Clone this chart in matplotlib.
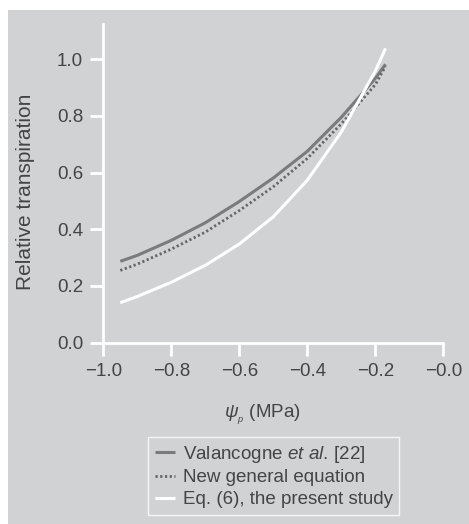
import matplotlib
matplotlib.use("Agg")
import matplotlib.pyplot as plt
from matplotlib.patches import Rectangle

plt.rcParams["font.family"] = ["Liberation Sans", "DejaVu Sans"]
plt.rcParams["mathtext.fontset"] = "custom"
plt.rcParams["mathtext.rm"] = "Liberation Sans"
plt.rcParams["mathtext.it"] = "Liberation Sans:italic"

# water potential (MPa)
psi = [-0.95, -0.9, -0.8, -0.7, -0.6, -0.5, -0.4, -0.3, -0.2, -0.17]
valancogne = [0.287, 0.308, 0.361, 0.423, 0.498, 0.581, 0.675, 0.795, 0.932, 0.982]
new_general = [0.255, 0.277, 0.330, 0.390, 0.466, 0.550, 0.650, 0.772, 0.910, 0.975]
eq6 = [0.141, 0.163, 0.213, 0.273, 0.348, 0.444, 0.573, 0.743, 0.958, 1.038]

BG = "#d1d2d4"
TXT = "#444444"

fig = plt.figure(figsize=(4.69, 5.24), dpi=100, facecolor="white")
fig.patches.append(Rectangle((8 / 469, 0), 1, 1 - 10 / 524, transform=fig.transFigure,
                             facecolor=BG, edgecolor="none", zorder=-10))

ax = fig.add_axes([103.3 / 469, 181.3 / 524, 340 / 469, 318.7 / 524])
ax.set_facecolor("none")

ax.plot(psi, valancogne, color="#7b7b7b", lw=2.2, solid_capstyle="butt",
        label=r"Valancogne $et\ al.\,$[22]")
ax.plot(psi, new_general, color="#666666", lw=2.0, linestyle=(0, (0.8, 0.9)),
        label="New general equation")
ax.plot(psi, eq6, color="white", lw=2.2, solid_capstyle="butt",
        label="Eq. (6), the present study")

ax.set_xlim(-1.0, 0.0)
ax.set_ylim(0.0, 1.124)
ax.set_xticks([-1.0, -0.8, -0.6, -0.4, -0.2, 0.0])
ax.set_xticklabels(["\u22121.0", "\u22120.8", "\u22120.6", "\u22120.4", "\u22120.2", "\u22120.0"])
ax.set_yticks([0.0, 0.2, 0.4, 0.6, 0.8, 1.0])
ax.set_yticklabels(["0.0", "0.2", "0.4", "0.6", "0.8", "1.0"])

for side in ["top", "right"]:
    ax.spines[side].set_visible(False)
for side in ["left", "bottom"]:
    ax.spines[side].set_color("white")
    ax.spines[side].set_linewidth(2.0)

ax.tick_params(axis="both", direction="out", colors="white", length=9.5, width=2.0,
               labelcolor=TXT, labelsize=13.5, pad=5)

ax.set_ylabel("Relative transpiration", fontsize=15, color=TXT)
ax.yaxis.set_label_coords(-0.2, 0.474)
ax.set_xlabel(r"$\psi_{_p}$ (MPa)", fontsize=13.5, color=TXT)
ax.xaxis.set_label_coords((262 - 103.3) / 340, (342.7 - 415) / 318.7)
ax.xaxis.label.set_verticalalignment("center")

leg = fig.legend(loc="upper left", bbox_to_anchor=(148 / 469, 1 - 437 / 524),
                 frameon=True, fancybox=False, fontsize=13.5, handlelength=1.1,
                 handletextpad=0.4, borderpad=0.35, labelspacing=0.25, borderaxespad=0)
leg.get_frame().set_facecolor("none")
leg.get_frame().set_edgecolor("white")
leg.get_frame().set_linewidth(1.0)
for t in leg.get_texts():
    t.set_color(TXT)

fig.savefig("out.png", dpi=100, facecolor="white")
